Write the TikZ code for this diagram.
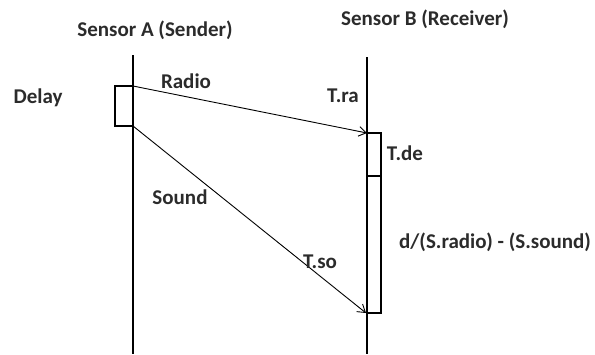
\documentclass[tikz,border=0pt]{standalone}
\usepackage{fontspec}
\setmainfont{Carlito}
\usetikzlibrary{arrows.meta,positioning}
\definecolor{inkgray}{HTML}{2B2B2B}
\tikzset{
  label/.style={font=\bfseries\fontsize{21}{24}\selectfont,text=inkgray,inner sep=1pt},
  lifeline/.style={line width=1.1pt,draw=black},
  delaybox/.style={line width=1.1pt,draw=black},
  msg/.style={-{Straight Barb[length=2.6mm,width=3.4mm]},line width=0.9pt,draw=black}
}
\begin{document}
\begin{tikzpicture}[x=1pt,y=-1pt]
  \useasboundingbox (0,0) rectangle (595,354);
  % sensors
  \node[label] (senderlbl) at (155,30) {Sensor A (Sender)};
  \node[label] (receiverlbl) at (425,19) {Sensor B (Receiver)};
  \coordinate (atop) at (133,55);
  \coordinate (abot) at (133,354);
  \coordinate (btop) at (367,57);
  \coordinate (bbot) at (367,354);
  \draw[lifeline] (atop) -- (abot);
  \draw[lifeline] (btop) -- (bbot);
  % delay at sender
  \coordinate (radiostart) at (133,86);
  \coordinate (soundstart) at (133,126);
  \draw[delaybox] (radiostart) -- (115,86) -- (115,126) -- (soundstart);
  \node[label] (delaylbl) at (38,98) {Delay};
  % messages
  \coordinate (radioend) at (367,133);
  \coordinate (soundend) at (366,313);
  \draw[msg] (radiostart) -- (radioend);
  \draw[msg] (soundstart) -- (soundend);
  \node[label] (radiolbl) at (186,81) {Radio};
  \node[label] (soundlbl) at (180,197) {Sound};
  \node[label] (tralbl) at (343,96) {T.ra};
  \node[label] (tsolbl) at (320,262) {T.so};
  % intervals at receiver
  \coordinate (desplit) at (367,176);
  \draw[delaybox] (radioend) -- (381,133) -- (381,313) -- (soundend);
  \draw[delaybox] (desplit) -- (381,176);
  \node[label] (tdelbl) at (405,153) {T.de};
  \node[label] (difflbl) at (495,242) {d/(S.radio) - (S.sound)};
\end{tikzpicture}
\end{document}
